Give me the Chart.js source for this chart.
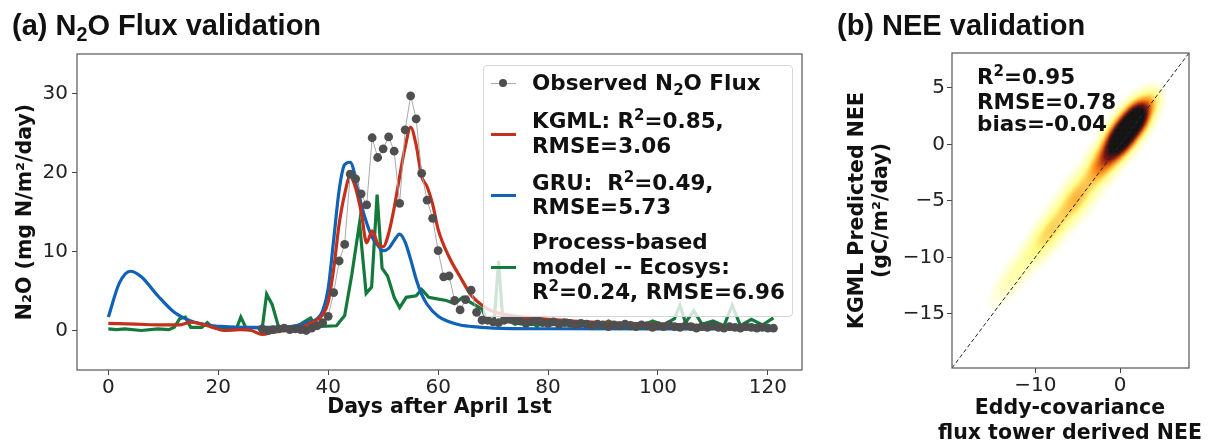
<!DOCTYPE html>
<html>
<head>
<meta charset="utf-8">
<script src="https://cdn.jsdelivr.net/npm/chart.js@4.4.1/dist/chart.umd.min.js"></script>
<style>
  html,body{margin:0;padding:0;background:#fff;}
  body{width:1212px;height:443px;overflow:hidden;position:relative;font-family:"DejaVu Sans",sans-serif;color:#111;}
  canvas{position:absolute;top:0;}
  #ca{left:0;}
  #cb{left:820px;}
  .ptitle{position:absolute;top:9px;font-family:"Liberation Sans",Arial,sans-serif;font-weight:bold;font-size:29px;line-height:32px;white-space:nowrap;color:#111;}
  .ptitle sub{font-size:0.68em;vertical-align:-0.3em;line-height:0;}
  .bt{position:absolute;font-family:"DejaVu Sans",sans-serif;font-weight:bold;font-size:21.5px;line-height:24px;white-space:nowrap;color:#111;}
  .bt sup{font-size:0.7em;vertical-align:0.5em;line-height:0;}
  .bt sub{font-size:0.7em;vertical-align:-0.3em;line-height:0;}
  .at{position:absolute;font-family:"DejaVu Sans",sans-serif;font-weight:bold;font-size:20.5px;line-height:25px;white-space:nowrap;color:#111;text-align:center;width:320px;}
  #legbox{position:absolute;left:483px;top:65px;width:310px;height:252px;box-sizing:border-box;background:rgba(255,255,255,0.8);border:1px solid #d6d6d6;border-radius:4px;}
  .h{position:absolute;left:491px;width:25px;height:3px;}
  .hobs{position:absolute;left:491px;width:25px;height:1px;background:#a8a8a8;}
  .hdot{position:absolute;left:499px;width:8px;height:8px;border-radius:50%;background:#4f4f4f;}
</style>
</head>
<body>
<canvas id="ca" width="815" height="443"></canvas>
<canvas id="cb" width="392" height="443"></canvas>

<div class="ptitle" style="left:12px;">(a) N<sub>2</sub>O Flux validation</div>
<div class="ptitle" style="left:837px;">(b) NEE validation</div>

<div id="legbox"></div>
<div class="hobs" style="top:83px;"></div><div class="hdot" style="top:79px;"></div>
<div class="h" style="top:133px;background:#c4301c;"></div>
<div class="h" style="top:194px;background:#0f62b5;"></div>
<div class="h" style="top:266px;background:#137a3b;"></div>
<div class="bt" style="left:532px;top:71px;">Observed N<sub>2</sub>O Flux</div>
<div class="bt" style="left:532px;top:109px;">KGML: R<sup>2</sup>=0.85,</div>
<div class="bt" style="left:532px;top:134px;">RMSE=3.06</div>
<div class="bt" style="left:532px;top:171px;">GRU:&nbsp; R<sup>2</sup>=0.49,</div>
<div class="bt" style="left:532px;top:195px;">RMSE=5.73</div>
<div class="bt" style="left:532px;top:230px;">Process-based</div>
<div class="bt" style="left:532px;top:255px;">model -- Ecosys:</div>
<div class="bt" style="left:532px;top:280px;">R<sup>2</sup>=0.24, RMSE=6.96</div>

<div class="bt" style="left:977px;top:65px;">R<sup>2</sup>=0.95</div>
<div class="bt" style="left:977px;top:90px;">RMSE=0.78</div>
<div class="bt" style="left:977px;top:112px;">bias=-0.04</div>

<div class="at" style="left:910px;top:395px;">Eddy-covariance</div>
<div class="at" style="left:910px;top:420px;">flux tower derived NEE</div>

<script>
// ---------------- Panel (a) data: N2O flux (mg N/m2/day) vs days after April 1st ----------------
const dayTicks = [0, 20, 40, 60, 80, 100, 120];
const n2oTicks = [0, 10, 20, 30];
const obsFirstDay = 28;
const obsVals = [
  0.2, 0.0, 0.1, 0.2, 0.3, 0.1, 0.2, 0.1, 0.0, 0.3,
  0.6, 1.0, 1.8, 4.8, 8.8, 10.9, 19.8, 19.2, 17.3, 15.9,
  24.4, 21.9, 23.0, 24.5, 22.7, 16.1, 25.4, 29.7, 26.8, 19.9,
  16.5, 14.2, 10.1, 6.8, 6.9, 3.8, 2.6, 3.9, 5.1, 2.3,
  1.3, 1.3, 1.1, 1.0, 1.3, 1.4, 1.3, 1.2, 1.0, 1.1,
  1.3, 1.0, 0.9, 1.1, 0.8, 1.0, 0.9, 0.7, 0.9, 0.8,
  0.6, 0.8, 0.7, 0.5, 0.7, 0.6, 0.8, 0.6, 0.5, 0.7,
  0.6, 0.4, 0.6, 0.5, 0.7, 0.5, 0.4, 0.6, 0.5, 0.3,
  0.5, 0.4, 0.6, 0.4, 0.3, 0.5, 0.4, 0.3, 0.5, 0.4,
  0.3, 0.4, 0.3, 0.3
];
const kgmlDays = [0, 5, 10, 13, 15, 17, 19, 21, 24, 26, 28, 30, 33, 35, 37, 38, 39, 40, 41, 42,
  43, 44, 45, 46, 47, 48, 49, 50, 51, 52, 53, 54, 55, 56, 57, 58, 59, 60, 62, 64,
  66, 68, 70, 75, 80, 90, 100, 110, 121];
const kgmlVals = [0.9, 0.8, 0.7, 0.7, 1.05, 0.8, 0.4, 0.0, 0.1, 0.0, -0.5, -0.2, 0.1, 0.4, 1.0, 1.4, 2.0, 3.6, 7.8, 13.5,
  17.3, 19.5, 18.0, 15.0, 11.1, 12.6, 11.0, 10.6, 12.3, 15.5, 19.5, 23.2, 25.7, 23.5, 19.5, 18.2, 16.0, 12.8, 9.3, 6.8,
  4.5, 3.2, 2.4, 1.75, 1.4, 1.0, 0.8, 0.6, 0.4];
const gruDays = [0, 2, 4, 6, 9, 12, 15, 18, 21, 25, 30, 34, 36, 38, 39, 40, 41, 42, 43, 44,
  45, 46, 47, 48, 49, 50, 51, 52, 53, 54, 55, 56, 57, 58, 60, 62, 64, 67, 70, 80, 100, 121];
const gruVals = [1.7, 6.0, 7.5, 6.8, 4.4, 2.3, 1.2, 0.7, 0.5, 0.4, 0.4, 0.6, 1.0, 1.5, 2.5, 5.3, 11.5, 17.8, 21.0, 21.3,
  19.3, 16.0, 13.6, 11.8, 10.8, 10.1, 10.4, 11.4, 12.2, 11.2, 9.0, 6.5, 4.6, 3.3, 1.8, 1.1, 0.7, 0.45, 0.3, 0.22, 0.2, 0.2];
const ecoDays = [0, 1.5, 3, 6, 9, 11, 12, 13, 14, 15, 17, 18, 19, 21.5, 23.4, 24.1, 25, 28, 28.8, 29.8,
  31, 34, 36.8, 37.8, 41.5, 43, 44.3, 45.7, 46.9, 47.9, 48.9, 49.8, 50.8, 52, 53, 54.2, 56, 57, 58.3, 59.8,
  61.5, 63, 64.5, 65.8, 68, 69, 70.2, 71, 71.8, 73, 74, 75, 76, 77, 78, 79, 80, 82, 83.5, 85,
  87, 89, 91, 93, 95, 97, 99, 101, 103, 104, 105, 106.5, 108, 110, 112, 113.5, 115, 117, 119, 121];
const ecoVals = [0.2, 0.1, 0.2, 0.0, 0.2, 0.1, 0.4, 1.5, 1.7, 0.4, 0.4, 1.0, 0.4, 0.3, 0.4, 1.7, 0.4, 0.3, 4.6, 3.3,
  0.4, 0.4, 1.6, 0.5, 0.6, 1.9, 7.1, 13.6, 4.7, 5.5, 17.2, 7.9, 6.9, 4.2, 2.9, 4.2, 4.4, 5.2, 4.2, 4.0,
  3.8, 3.4, 4.2, 3.6, 2.7, 1.05, 1.2, 8.8, 1.0, 1.2, 0.8, 1.05, 0.4, 1.05, 0.5, 1.2, 0.6, 1.0, 1.3, 0.4,
  0.8, 0.5, 1.2, 0.6, 1.0, 0.5, 1.2, 0.7, 1.5, 3.2, 1.0, 2.5, 0.8, 1.2, 0.6, 3.2, 0.6, 1.4, 0.7, 1.6];
const dayRange = [-5.7, 126.2];
const n2oRange = [-5, 35];

// ---------------- Panel (b) data: NEE density cloud (gC/m2/day), read as blobs along the 1:1 line ----------------
const neeTicksX = [-10, 0];
const neeTicksY = [-15, -10, -5, 0, 5];
const neeRange = [-19.8, 8.1];
const neeCloudObs      = [-12.5, -8.5, -5.0, -2.3, 0.4, 2.2, 3.8];
const neeCloudPred     = [-11.6, -7.9, -4.6, -1.9, 0.9, 2.5, 3.9];
const neeCloudWeight   = [0.10, 0.20, 0.23, 0.21, 1.0, 0.4, 0.13];
const neeSpreadAlong   = [2.2, 2.2, 2.0, 1.4, 1.9, 1.1, 0.8];
const neeSpreadAcross  = [0.7, 0.85, 0.95, 0.9, 0.85, 0.8, 0.7];

// ---------------- helpers ----------------
Chart.defaults.font.family = 'DejaVu Sans';
const pairs = (xs, ys) => xs.map((x, i) => ({x: x, y: ys[i]}));
const minusFmt = v => (v < 0 ? '\u2212' + Math.abs(v) : String(v));

function afmhotR(t) { // matplotlib 'afmhot_r'
  const u = 1 - t;
  const cl = v => Math.max(0, Math.min(1, v));
  const r = cl(2 * u), g = cl(2 * u - 0.5), b = cl(2 * u - 1);
  return 'rgb(' + Math.round(r * 255) + ',' + Math.round(g * 255) + ',' + Math.round(b * 255) + ')';
}

const framePlugin = {
  id: 'frame',
  afterDatasetsDraw(chart) {
    const {ctx, chartArea: a} = chart;
    ctx.save();
    ctx.strokeStyle = '#555';
    ctx.lineWidth = 1.2;
    ctx.strokeRect(a.left, a.top, a.right - a.left, a.bottom - a.top);
    ctx.restore();
  }
};
const blurPlugin = {
  id: 'blurds',
  beforeDatasetDraw(chart, args) {
    const ds = chart.data.datasets[args.index];
    if (ds.blurPx) { chart.ctx.save(); chart.ctx.filter = 'blur(' + ds.blurPx + 'px)'; }
  },
  afterDatasetDraw(chart, args) {
    const ds = chart.data.datasets[args.index];
    if (ds.blurPx) { chart.ctx.restore(); }
  }
};

const tickFont = {family: 'DejaVu Sans', size: 20};
const titleFont = {family: 'DejaVu Sans', size: 20.5, weight: 'bold', lineHeight: 1.2};
const gridOpts = {display: true, drawOnChartArea: false, drawTicks: true, tickLength: 5, color: '#444', tickColor: '#444', tickWidth: 1};

// ---------------- Chart (a) ----------------
new Chart(document.getElementById('ca'), {
  type: 'line',
  data: {
    datasets: [
      {label: 'Observed N2O Flux', data: obsVals.map((v, i) => ({x: obsFirstDay + i, y: v})),
       borderColor: '#a8a8a8', borderWidth: 1, pointRadius: 4.4, pointBackgroundColor: '#4f4f4f',
       pointBorderWidth: 0, pointHoverRadius: 4.4, tension: 0},
      {label: 'KGML', data: pairs(kgmlDays, kgmlVals), borderColor: '#c4301c', borderWidth: 3.2,
       pointRadius: 0, cubicInterpolationMode: 'monotone'},
      {label: 'GRU', data: pairs(gruDays, gruVals), borderColor: '#0f62b5', borderWidth: 3.2,
       pointRadius: 0, cubicInterpolationMode: 'monotone'},
      {label: 'Ecosys', data: pairs(ecoDays, ecoVals), borderColor: '#137a3b', borderWidth: 3.2,
       pointRadius: 0, tension: 0}
    ]
  },
  options: {
    responsive: false, animation: false, devicePixelRatio: 1,
    layout: {padding: {top: 54, right: 13, left: 0, bottom: 0}},
    plugins: {legend: {display: false}, tooltip: {enabled: false}},
    events: [],
    scales: {
      x: {
        type: 'linear', min: dayRange[0], max: dayRange[1],
        afterBuildTicks: s => { s.ticks = dayTicks.map(v => ({value: v})); },
        afterFit: s => { s.height = 73; },
        grid: gridOpts, border: {display: false},
        ticks: {font: tickFont, color: '#222', padding: 1, maxRotation: 0, autoSkip: false},
        title: {display: true, text: 'Days after April 1st', font: titleFont, color: '#111', padding: {top: 0, bottom: 23}}
      },
      y: {
        type: 'linear', min: n2oRange[0], max: n2oRange[1],
        afterBuildTicks: s => { s.ticks = n2oTicks.map(v => ({value: v})); },
        afterFit: s => { s.width = 77; },
        grid: gridOpts, border: {display: false},
        ticks: {font: tickFont, color: '#222', padding: 4, autoSkip: false},
        title: {display: true, text: 'N\u2082O (mg N/m\u00b2/day)', font: titleFont, color: '#111', padding: {top: 13, bottom: 0}}
      }
    }
  },
  plugins: [framePlugin]
});

// ---------------- Chart (b) ----------------
function cloudCells(range, step) {
  const cells = [];
  let fmax = 0;
  const k = Math.SQRT1_2;
  for (let x = range[0]; x <= range[1]; x += step) {
    for (let y = range[0]; y <= range[1]; y += step) {
      let f = 0;
      for (let i = 0; i < neeCloudObs.length; i++) {
        const dx = x - neeCloudObs[i], dy = y - neeCloudPred[i];
        const a = (dx + dy) * k, c = (dy - dx) * k;
        const sa = neeSpreadAlong[i], sc = neeSpreadAcross[i];
        f += neeCloudWeight[i] * Math.exp(-(a * a) / (2 * sa * sa) - (c * c) / (2 * sc * sc));
      }
      if (f > fmax) fmax = f;
      cells.push({x: x, y: y, f: f});
    }
  }
  return cells.map(c => ({x: c.x, y: c.y, t: Math.min(1, c.f / (0.6 * fmax))}))
              .filter(c => c.t > 0.03)
              .sort((p, q) => p.t - q.t);
}
const cloud = cloudCells(neeRange, 0.15);

new Chart(document.getElementById('cb'), {
  type: 'scatter',
  data: {
    datasets: [
      {label: '1:1', type: 'line', data: [{x: neeRange[0], y: neeRange[0]}, {x: neeRange[1], y: neeRange[1]}],
       borderColor: '#222', borderWidth: 1, borderDash: [4, 2.5], pointRadius: 0, showLine: true},
      {label: 'density', data: cloud, pointStyle: 'rect', pointRadius: 1.6, borderWidth: 0,
       backgroundColor: c => afmhotR(c.raw ? c.raw.t : 0), blurPx: 1}
    ]
  },
  options: {
    responsive: false, animation: false, devicePixelRatio: 1,
    layout: {padding: {top: 53, right: 23, left: 0, bottom: 0}},
    plugins: {legend: {display: false}, tooltip: {enabled: false}},
    events: [],
    scales: {
      x: {
        type: 'linear', min: neeRange[0], max: neeRange[1],
        afterBuildTicks: s => { s.ticks = neeTicksX.map(v => ({value: v})); },
        afterFit: s => { s.height = 75; },
        grid: gridOpts, border: {display: false},
        ticks: {font: tickFont, color: '#222', padding: 1, maxRotation: 0, autoSkip: false, callback: minusFmt},
        title: {display: false}
      },
      y: {
        type: 'linear', min: neeRange[0], max: neeRange[1],
        afterBuildTicks: s => { s.ticks = neeTicksY.map(v => ({value: v})); },
        afterFit: s => { s.width = 132; },
        grid: gridOpts, border: {display: false},
        ticks: {font: tickFont, color: '#222', padding: 2, autoSkip: false, callback: minusFmt},
        title: {display: true, text: ['KGML Predicted NEE', '(gC/m\u00b2/day)'], font: titleFont, color: '#111', padding: {top: 25, bottom: 0}}
      }
    }
  },
  plugins: [blurPlugin, framePlugin]
});
</script>
</body>
</html>
